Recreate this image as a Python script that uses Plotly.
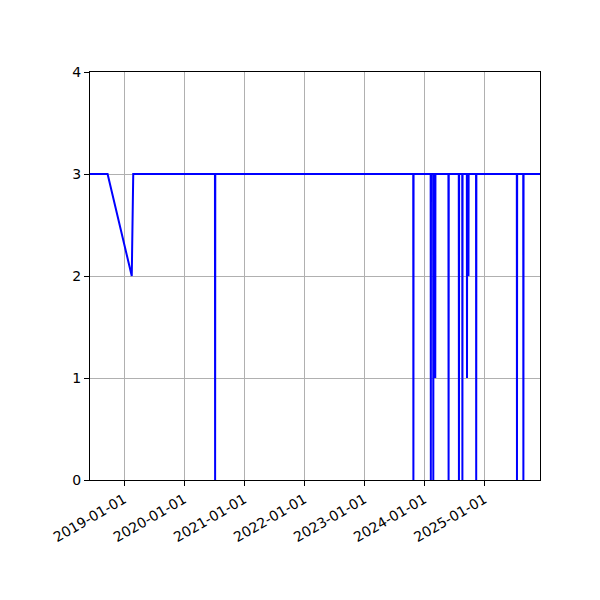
import plotly.graph_objects as go

# change points of the status series (daily samples around each drop)
dates = [
    "2018-06-08", "2018-09-23", "2019-02-17", "2019-02-26",
    "2020-07-07", "2020-07-08", "2020-07-09",
    "2023-10-26", "2023-10-27", "2023-10-28",
    "2024-02-09", "2024-02-10", "2024-02-11",
    "2024-02-24", "2024-02-25", "2024-02-26",
    "2024-03-07", "2024-03-08", "2024-03-09",
    "2024-05-27", "2024-05-28", "2024-05-29",
    "2024-07-29", "2024-07-30", "2024-07-31",
    "2024-08-19", "2024-08-20", "2024-08-21",
    "2024-09-16", "2024-09-17", "2024-09-18",
    "2024-09-25", "2024-09-26", "2024-09-27",
    "2024-11-11", "2024-11-12", "2024-11-13",
    "2025-07-17", "2025-07-18", "2025-07-19",
    "2025-08-25", "2025-08-26", "2025-08-27",
    "2025-12-05",
]
values = [
    3, 3, 2, 3,
    3, 0, 3,
    3, 0, 3,
    3, 0, 3,
    3, 0, 3,
    3, 1, 3,
    3, 0, 3,
    3, 0, 3,
    3, 0, 3,
    3, 1, 3,
    3, 2, 3,
    3, 0, 3,
    3, 0, 3,
    3, 0, 3,
    3,
]

x_ticks = ["2019-01-01", "2020-01-01", "2021-01-01", "2022-01-01",
           "2023-01-01", "2024-01-01", "2025-01-01"]
y_ticks = [0, 1, 2, 3, 4]

fig = go.Figure(
    go.Scatter(x=dates, y=values, mode="lines",
               line=dict(color="blue", width=2), hoverinfo="x+y")
)

axis_style = dict(
    showline=True, linecolor="black", linewidth=1, mirror=True,
    ticks="outside", ticklen=5, tickcolor="black", tickwidth=1,
    showgrid=True, gridcolor="#b0b0b0", gridwidth=1, zeroline=False,
)

fig.update_xaxes(
    type="date", range=["2018-06-08", "2025-12-05"],
    tickvals=x_ticks, ticktext=x_ticks, tickangle=-30,
    **axis_style,
)
fig.update_yaxes(range=[0, 4], tickvals=y_ticks, **axis_style)

# page body adds 8px, so margins are shifted to land the axes at 90..540 / 72..480
fig.update_layout(
    width=600, height=600,
    margin=dict(l=82, r=68, t=64, b=128),
    paper_bgcolor="white", plot_bgcolor="white",
    font=dict(family="DejaVu Sans", size=14, color="black"),
    showlegend=False,
)

fig.write_html("out.html")
